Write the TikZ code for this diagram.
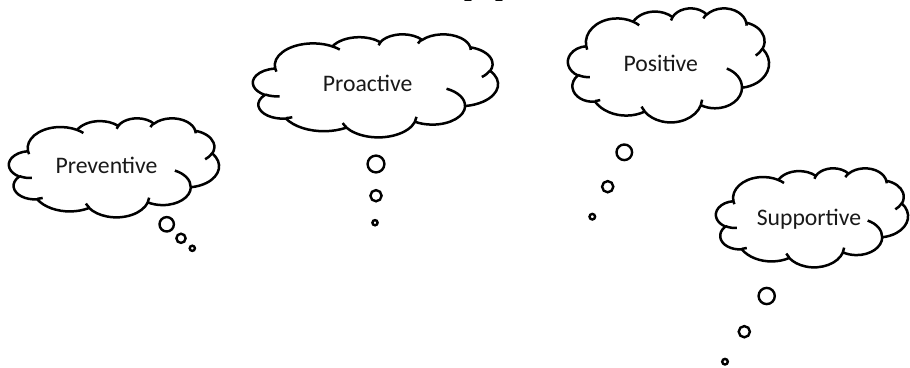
\documentclass[tikz,border=0pt]{standalone}
\usepackage{fontspec}
\setmainfont{Carlito}
\tikzset{
  cloudline/.style={line width=2.5pt, line join=round, draw=black},
  bubble/.style={line width=2.4pt, draw=black, fill=white},
  cloudtext/.style={font=\fontsize{23.7}{28}\selectfont, inner sep=0pt, anchor=base, text=black!90},
  titletext/.style={font=\fontsize{57}{60}\selectfont\bfseries, inner sep=0pt, anchor=base, text=black},
}
% Office-style elliptical arc: wR, hR, start (visual) angle, sweep
\newcommand\carc[4]{arc[x radius=#1, y radius=#2, start angle={atan2((#1)*sin(#3),(#2)*cos(#3))}, delta angle={Mod(atan2((#1)*sin((#3)+(#4)),(#2)*cos((#3)+(#4)))-atan2((#1)*sin(#3),(#2)*cos(#3))-(#4)+180,360)-180+(#4)}]}
\newcommand\officecloud[4]{%
  \begin{scope}[shift={(#1,#2)}, xscale=#3/43.2, yscale=#4/43.2]
  \draw[cloudline, fill=white] (3.9,14.37)
    \carc{6.753}{9.19}{-190.48748}{123.78053}
    \carc{5.333}{7.267}{-144.10238}{89.94523}
    \carc{4.365}{5.945}{-145.80792}{99.72302}
    \carc{4.857}{6.595}{-130.98607}{117.24173}
    \carc{5.333}{7.273}{-78.70888}{109.02692}
    \carc{6.775}{9.22}{-46.26725}{130.269}
    \carc{5.785}{7.867}{0.62502}{114.03333}
    \carc{6.752}{9.215}{22.4516}{115.17255}
    \carc{7.72}{10.543}{66.24263}{75.71102}
    \carc{4.36}{5.918}{-274.94208}{146.73557}
    \carc{4.345}{5.945}{-246.8285}{152.51885}
    -- cycle;
  \draw[cloudline]
    (4.693,26.177) \carc{4.345}{5.945}{86.742}{26.4295}
    (6.928,34.899) \carc{4.36}{5.918}{73.61047}{11.44747}
    (16.478,39.09) \carc{6.752}{9.215}{137.62415}{14.0811}
    (28.827,34.751) \carc{6.752}{9.215}{6.45327}{15.99835}
    (34.129,22.954) \carc{5.785}{7.867}{-70.29235}{70.91737}
    (41.798,15.354) \carc{5.333}{7.273}{30.31803}{27.7515}
    (38.324,5.426) \carc{4.857}{6.595}{-13.74433}{14.8589}
    (29.078,3.952) \carc{4.857}{6.595}{-149.18145}{18.19537}
    (22.141,4.72) \carc{4.365}{5.945}{-163.49427}{17.68635}
    (14.0,5.192) \carc{6.753}{9.19}{-66.70695}{12.31935}
    (4.127,15.789) \carc{6.753}{9.19}{157.65435}{11.85817};
  \end{scope}}
\begin{document}
\begin{tikzpicture}[x=1pt, y=1pt, yscale=-1]
  \clip (0,0) rectangle (910,367);
  \fill[white] (0,0) rectangle (910,367);
  % partly visible title
  \node[titletext] (title) at (492,-8) {pp};
  % clouds
  \officecloud{9}{118}{210}{99}
  \officecloud{253}{34}{245}{103}
  \officecloud{568}{8}{201}{114}
  \officecloud{716}{168}{192}{99}
  % texts
  \node[cloudtext] (prev) at (106.5,173.3) {Preventive};
  \node[cloudtext] (proa) at (367.7,91.7) {Proactive};
  \node[cloudtext] (posi) at (660.8,71.7) {Positive};
  \node[cloudtext] (supp) at (809,225) {Supportive};
  % thought bubbles
  \draw[bubble] (166.7,224.3) circle[radius=7.2];
  \draw[bubble] (181,238.3) circle[radius=4.6];
  \draw[bubble] (192.3,248.3) circle[radius=2.6];
  \draw[bubble] (376,164) circle[radius=8.4];
  \draw[bubble] (376,195.7) circle[radius=5.6];
  \draw[bubble] (375,222.7) circle[radius=2.6];
  \draw[bubble] (624.3,152.3) circle[radius=7.8];
  \draw[bubble] (607.7,186.7) circle[radius=5.6];
  \draw[bubble] (592.3,216.7) circle[radius=2.8];
  \draw[bubble] (766.7,296) circle[radius=8.1];
  \draw[bubble] (744.3,331.7) circle[radius=5.6];
  \draw[bubble] (725,361.7) circle[radius=2.8];
\end{tikzpicture}
\end{document}
